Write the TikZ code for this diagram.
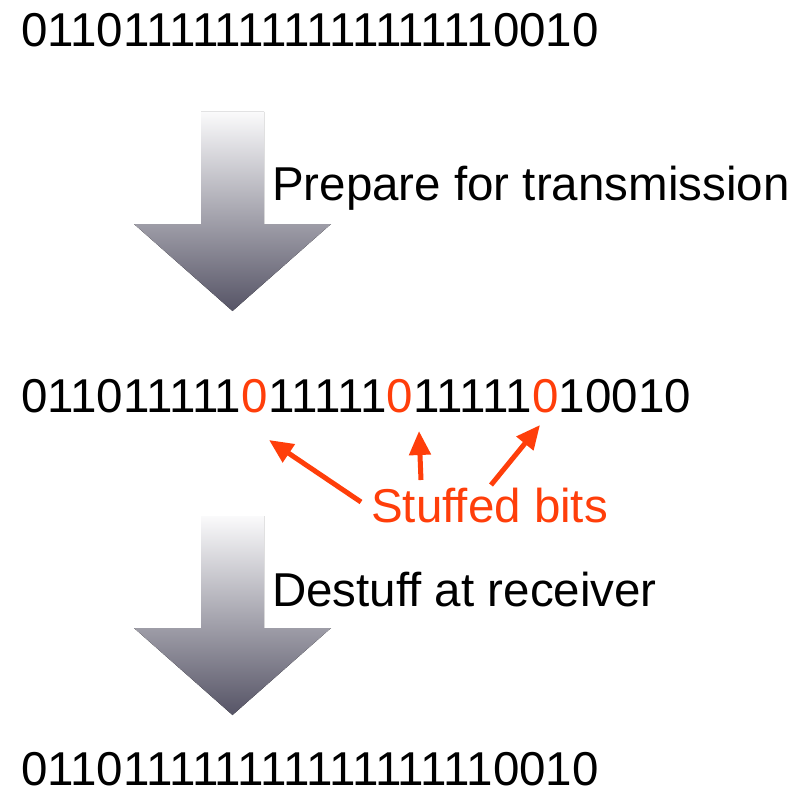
\documentclass[tikz,border=0pt]{standalone}
\usepackage{fontspec}
\setmainfont{Liberation Sans}
\usetikzlibrary{arrows.meta}
\definecolor{stuffred}{RGB}{255,62,10}
\definecolor{arrowtop}{RGB}{250,250,251}
\definecolor{arrowmid}{RGB}{176,176,184}
\definecolor{arrowbot}{RGB}{86,84,102}
\tikzset{
  bits/.style={inner sep=0pt,anchor=base west,font=\fontsize{47.5}{54}\selectfont},
  stuffed/.style={bits,text=stuffred},
  note/.style={inner sep=0pt,anchor=base west,font=\fontsize{47.5}{54}\selectfont},
  fatarrow/.style={top color=arrowtop,middle color=arrowmid,bottom color=arrowbot,draw=none},
  stuffarrow/.style={draw=stuffred,line width=5pt,-{Triangle[length=24pt,width=21pt]}}
}
\begin{document}
\begin{tikzpicture}[x=1pt,y=-1pt]
\useasboundingbox (0,0) rectangle (800,789);
% bit strings
\node[bits] (sent) at (21,47) {011011111111111111110010};
\node[bits] (m1) at (21,412) {011011111};
\node[stuffed] (s1) at (m1.base east) {0};
\node[bits] (m2) at (s1.base east) {11111};
\node[stuffed] (s2) at (m2.base east) {0};
\node[bits] (m3) at (s2.base east) {11111};
\node[stuffed] (s3) at (m3.base east) {0};
\node[bits] (m4) at (s3.base east) {10010};
\node[bits] (recv) at (21,785) {011011111111111111110010};
% big arrows
\foreach \y in {0,404} {
\fill[fatarrow] (201,112+\y) -- (264,112+\y) -- (264,224+\y) -- (331,224+\y)
  -- (232.5,311+\y) -- (134,224+\y) -- (201,224+\y) -- cycle;
}
\node[note] (prep) at (272,200) {Prepare for transmission};
\node[note] (destuff) at (272,606) {Destuff at receiver};
\node[note,text=stuffred] (stuff) at (371,522) {Stuffed bits};
% pointers to the stuffed zeros
\coordinate (p1) at (269,440);
\coordinate (p2) at (419,431);
\coordinate (p3) at (540,425);
\draw[stuffarrow] (361,502) -- (p1);
\draw[stuffarrow] (421,480) -- (p2);
\draw[stuffarrow] (491,485) -- (p3);
\end{tikzpicture}
\end{document}
